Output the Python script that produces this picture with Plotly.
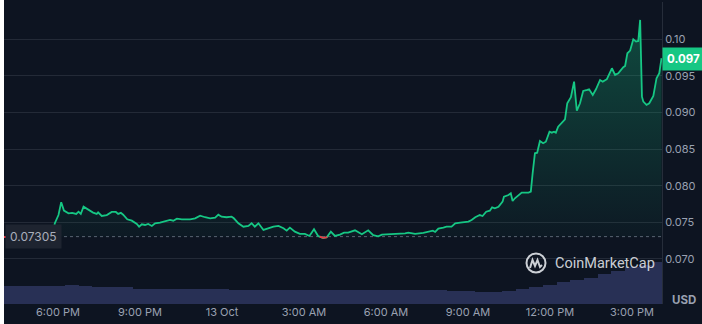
import numpy as np
import pandas as pd
import plotly.graph_objects as go

# ---------------- data ----------------
# price samples: minutes after 12 Oct 18:00, price in USD
minutes = [-119, -83, -50, -18, -13, -7, 1, 7, 13, 23, 31, 40, 45, 50, 56, 67, 77, 85, 88, 96,
           107, 118, 127, 132, 138, 143, 152, 162, 173, 178, 184, 191, 198, 206, 213, 224, 235, 246, 253, 261,
           272, 290, 301, 312, 323, 334, 345, 352, 359, 370, 381, 386, 396, 407, 418, 425, 432, 440, 451, 462,
           473, 484, 495, 502, 509, 520, 531, 542, 552, 562, 571, 582, 590, 599, 608, 619, 628, 637, 652, 667,
           681, 692, 703, 711, 729, 747, 762, 769, 784, 802, 813, 823, 828, 835, 846, 853, 864, 872, 883, 901,
           908, 916, 926, 932, 940, 948, 953, 959, 967, 976, 979, 989, 994, 998, 1003, 1018, 1033, 1038, 1042, 1047,
           1052, 1058, 1065, 1071, 1079, 1084, 1089, 1093, 1098, 1106, 1113, 1118, 1126, 1133, 1139, 1146, 1153, 1162, 1166, 1174,
           1181, 1190, 1196, 1205, 1216, 1223, 1230, 1241, 1245, 1250, 1256, 1263, 1269, 1274, 1278, 1282, 1285, 1292, 1298, 1307,
           1314, 1320, 1325]
prices = [0.07300, 0.07298, 0.07302, 0.07290, 0.07283, 0.07488, 0.07600, 0.07775, 0.07660, 0.07624,
          0.07630, 0.07615, 0.07646, 0.07615, 0.07714, 0.07669, 0.07633, 0.07615, 0.07638, 0.07587,
          0.07600, 0.07642, 0.07642, 0.07615, 0.07630, 0.07605, 0.07542, 0.07523, 0.07478, 0.07441,
          0.07474, 0.07464, 0.07478, 0.07451, 0.07488, 0.07496, 0.07510, 0.07533, 0.07523, 0.07550,
          0.07542, 0.07542, 0.07556, 0.07592, 0.07570, 0.07556, 0.07564, 0.07605, 0.07578, 0.07570,
          0.07578, 0.07556, 0.07488, 0.07441, 0.07451, 0.07488, 0.07441, 0.07488, 0.07396, 0.07419,
          0.07441, 0.07451, 0.07419, 0.07387, 0.07428, 0.07373, 0.07342, 0.07342, 0.07314, 0.07406,
          0.07314, 0.07287, 0.07296, 0.07373, 0.07314, 0.07332, 0.07359, 0.07359, 0.07392, 0.07337,
          0.07392, 0.07324, 0.07310, 0.07332, 0.07337, 0.07342, 0.07351, 0.07359, 0.07342, 0.07355,
          0.07369, 0.07387, 0.07369, 0.07414, 0.07428, 0.07441, 0.07441, 0.07488, 0.07496, 0.07510,
          0.07533, 0.07570, 0.07600, 0.07587, 0.07646, 0.07660, 0.07706, 0.07692, 0.07714, 0.07783,
          0.07851, 0.07874, 0.07897, 0.07792, 0.07829, 0.07906, 0.07906, 0.07919, 0.08171, 0.08444,
          0.08452, 0.08612, 0.08581, 0.08602, 0.08739, 0.08725, 0.08739, 0.08725, 0.08807, 0.08862,
          0.08908, 0.09127, 0.09209, 0.09422, 0.09026, 0.09127, 0.09295, 0.09309, 0.09318, 0.09240,
          0.09318, 0.09445, 0.09422, 0.09455, 0.09605, 0.09514, 0.09537, 0.09619, 0.09637, 0.09810,
          0.09846, 0.10001, 0.09969, 0.09978, 0.10265, 0.09217, 0.09149, 0.09104, 0.09127, 0.09227,
          0.09469, 0.09537, 0.09742]

open_price = 0.07305
last_price_label = "0.097"

# volume (million USD), one value per 30 minutes from 12 Oct 16:00
volume = [9.0, 9.0, 8.85, 8.85, 9.25, 9.35, 9.25, 8.75, 8.5, 8.35,
          7.75, 7.65, 7.65, 7.65, 7.65, 7.65, 7.5, 7.0, 7.0, 7.0,
          7.0, 7.15, 7.25, 7.25, 7.25, 7.0, 7.0, 7.0, 7.0, 7.0,
          7.0, 7.0, 7.0, 6.75, 6.5, 6.25, 6.25, 6.75, 7.5, 8.75,
          9.75, 10.85, 12.25, 13.25, 15.0, 16.5, 18.5, 19.75, 21.0]

price_ticks = [0.070, 0.075, 0.080, 0.085, 0.090, 0.095, 0.100]
price_tick_text = ["0.070", "0.075", "0.080", "0.085", "0.090", "0.095", "0.10"]
time_tick_text = ["6:00 PM", "9:00 PM", "13 Oct", "3:00 AM", "6:00 AM", "9:00 AM", "12:00 PM", "3:00 PM"]

# ---------------- build ----------------
base = pd.Timestamp("2024-10-12 18:00")
t = base + pd.to_timedelta(minutes, unit="min")
p = np.array(prices)
vt = pd.date_range("2024-10-12 16:00", periods=len(volume), freq="30min")
tick_times = pd.date_range("2024-10-12 18:00", periods=len(time_tick_text), freq="3h")

# red segments where price is below opening price
tm = np.array(minutes, dtype=float)
red_x, red_y = [], []
for i in range(len(p) - 1):
    a, b = p[i], p[i + 1]
    xa, xb = tm[i], tm[i + 1]
    if a < open_price or b < open_price:
        if a >= open_price:
            xa = xa + (xb - xa) * (a - open_price) / (a - b)
            a = open_price
        elif b >= open_price:
            xb = xa + (xb - xa) * (open_price - a) / (b - a)
            b = open_price
        red_x += [xa, xb, None]
        red_y += [a, b, None]
red_t = [base + pd.Timedelta(minutes=v) if v is not None else None for v in red_x]

BG = "#0d1421"
GREEN = "#16c784"
RED = "#ea3943"
GRID = "#232a37"
TXT = "#9aa1b1"

fig = go.Figure()
fig.add_trace(go.Bar(x=vt, y=volume, yaxis="y2", marker=dict(color="#283055", line=dict(width=0)),
                     width=30 * 60 * 1000, hoverinfo="skip"))
fig.add_trace(go.Scatter(x=t, y=[open_price] * len(t), mode="lines", line=dict(width=0),
                         hoverinfo="skip"))
fig.add_trace(go.Scatter(x=t, y=p, mode="lines", line=dict(color=GREEN, width=1.8),
                         fill="tonexty",
                         fillgradient=dict(type="vertical", start=open_price, stop=0.1026,
                                           colorscale=[[0, "rgba(22,199,132,0.03)"],
                                                       [1, "rgba(22,199,132,0.30)"]])))
fig.add_trace(go.Scatter(x=red_t, y=red_y, mode="lines", line=dict(color=RED, width=1.8),
                         hoverinfo="skip"))

x0 = base + pd.Timedelta(minutes=-118.6)
x1 = base + pd.Timedelta(minutes=1326)
logo_x = (536 - 4) / 658
logo_y = (304 - 263) / 302

fig.update_layout(
    width=702, height=324,
    margin=dict(l=4, r=40, t=2, b=20),
    paper_bgcolor=BG, plot_bgcolor=BG,
    showlegend=False, bargap=0,
    font=dict(family="Inter", color=TXT, size=11),
    xaxis=dict(range=[x0, x1], tickvals=tick_times, ticktext=time_tick_text,
               showgrid=False, zeroline=False, showline=False, ticks="",
               tickfont=dict(size=11, color=TXT)),
    yaxis=dict(side="right", range=[0.06385, 0.1051], tickvals=price_ticks,
               ticktext=price_tick_text, showgrid=True, gridcolor=GRID, gridwidth=1,
               zeroline=False, showline=True, linecolor="#262d3a", linewidth=1,
               ticks="", tickfont=dict(size=11, color=TXT)),
    yaxis2=dict(overlaying="y", range=[0, 151], visible=False),
    shapes=[
        dict(type="line", xref="paper", x0=0, x1=1, yref="y", y0=open_price, y1=open_price,
             line=dict(color="#5b6272", width=1, dash="dot"), layer="below"),
        dict(type="circle", xref="paper", yref="paper", xsizemode="pixel", ysizemode="pixel",
             xanchor=logo_x, yanchor=logo_y, x0=-9.5, x1=9.5, y0=-9.5, y1=9.5,
             line=dict(color="rgba(225,228,234,0.9)", width=2), layer="above"),
        dict(type="path", xref="paper", yref="paper", xsizemode="pixel", ysizemode="pixel",
             xanchor=logo_x, yanchor=logo_y,
             path="M -6,-5 L -3.5,3 L -1,-3 L 1.5,3 L 4,-4 L 6,-2",
             line=dict(color="rgba(225,228,234,0.9)", width=2), layer="above"),
        dict(type="rect", xref="paper", yref="paper", xsizemode="pixel", ysizemode="pixel",
             xanchor=0, x0=-4, x1=0, yanchor=0, y0=-30, y1=340,
             fillcolor="white", line=dict(width=0), layer="above"),
    ],
    annotations=[
        dict(xref="paper", yref="y", x=0.002, y=open_price, xanchor="left", yanchor="middle",
             text="0.07305", showarrow=False, font=dict(size=12, color="#a9aebb"),
             bgcolor="#1e2430", borderpad=4),
        dict(xref="paper", yref="y", x=1.0, y=0.0973, xanchor="left", yanchor="middle",
             text="<b>" + last_price_label + "</b>", showarrow=False,
             font=dict(size=11.5, color="white"), bgcolor=GREEN, borderpad=4),
        dict(xref="paper", yref="paper", x=(553 - 4) / 658, y=logo_y,
             xanchor="left", yanchor="middle", text="CoinMarketCap", showarrow=False,
             font=dict(size=14.5, color="rgba(225,228,234,0.9)", family="Roboto")),
        dict(xref="paper", yref="paper", x=(684 - 4) / 658, y=(304 - 300) / 302,
             xanchor="center", yanchor="middle", text="<b>USD</b>", showarrow=False,
             font=dict(size=11.5, color=TXT)),
    ],
)

fig.write_html("out.html")
